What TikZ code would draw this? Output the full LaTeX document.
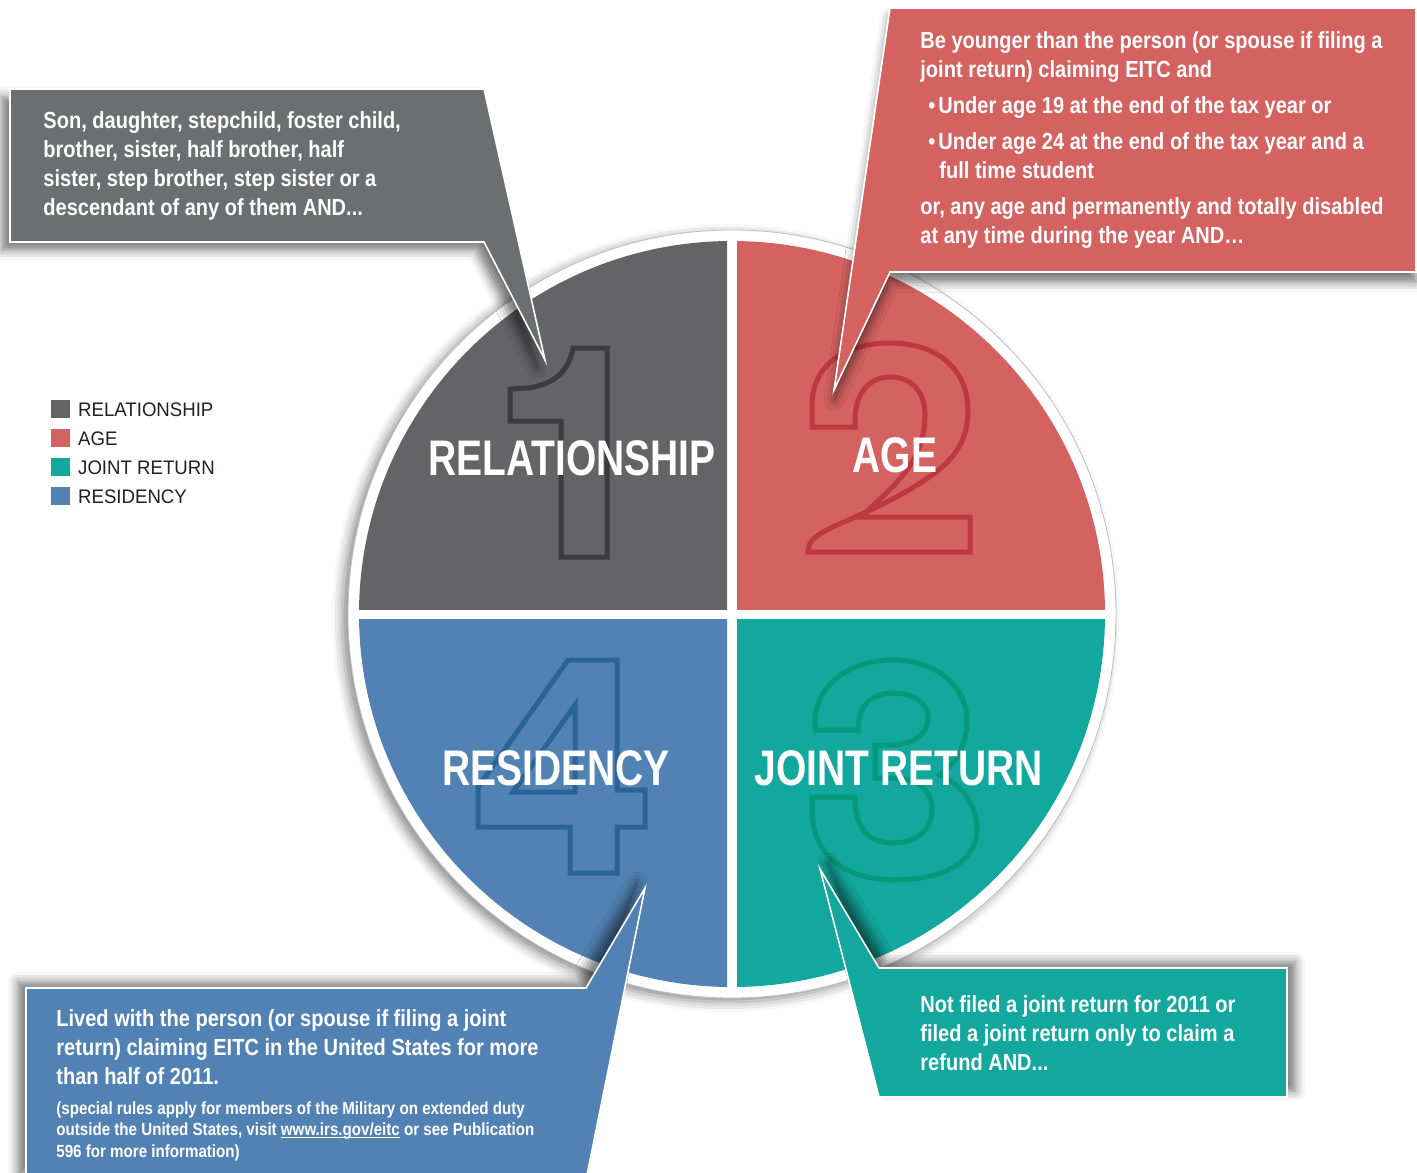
\documentclass[tikz,border=0pt]{standalone}
\usepackage{fontspec}
\setmainfont{Liberation Sans}
\newfontfamily\bodyfont{Liberation Sans}[FakeStretch=0.86]
\newfontfamily\titlefont{Liberation Sans}[FakeStretch=0.78]
\newfontfamily\legendfont{Liberation Sans}[FakeStretch=0.95]
\usetikzlibrary{positioning,shadows.blur}

\newcommand\weblink[1]{\setbox0\hbox{#1}\rlap{\rule[-1.3pt]{\wd0}{0.5pt}}\box0\relax}

\definecolor{relgrey}{RGB}{100,100,102}
\definecolor{boxgrey}{RGB}{109,110,113}
\definecolor{agered}{RGB}{212,98,97}
\definecolor{jointteal}{RGB}{18,168,157}
\definecolor{resblue}{RGB}{81,130,179}
\definecolor{relnum}{RGB}{60,60,62}
\definecolor{agenum}{RGB}{190,56,64}
\definecolor{jointnum}{RGB}{6,152,122}
\definecolor{resnum}{RGB}{42,100,150}
\definecolor{legendink}{RGB}{35,31,32}

\tikzset{
  callout/.style 2 args={draw=white, line width=0.8pt, line join=miter,
    blur shadow={shadow xshift=#1, shadow yshift=#2, shadow blur radius=5pt, shadow opacity=55}},
  digit/.style={line width=2.5pt, line join=miter},
  quadlabel/.style={text=white, font=\titlefont\bfseries\fontsize{25}{30}\selectfont, inner sep=0pt, anchor=base},
  boxtext/.style={text=white, font=\bodyfont\bfseries\fontsize{11.65}{14.5}\selectfont, align=left, inner sep=0pt, anchor=base west},
  smalltext/.style={boxtext, font=\bodyfont\bfseries\fontsize{8.8}{10.75}\selectfont},
  legendsq/.style={minimum width=9.5pt, minimum height=9pt, inner sep=0pt, anchor=north west},
  legendlabel/.style={text=legendink, font=\legendfont\fontsize{9.8}{12}\selectfont, inner sep=0pt, anchor=west}
}

\begin{document}
\begin{tikzpicture}[x=0.5pt,y=-0.5pt]
\useasboundingbox (0,0) rectangle (1417,1172);

% white disk behind the four quarters
\fill[white, draw=black!25, line width=0.4pt,
  blur shadow={shadow xshift=-3pt, shadow yshift=-2pt, shadow blur radius=5pt, shadow opacity=45}]
  (732,614) circle (384);

% quarters
\begin{scope}
\clip (727,609) rectangle (340,220);
\fill[relgrey] (732,614) circle (373);
\end{scope}
\begin{scope}
\clip (737,609) rectangle (1120,220);
\fill[agered] (732,614) circle (373);
\end{scope}
\begin{scope}
\clip (737,619) rectangle (1120,1000);
\fill[jointteal] (732,614) circle (373);
\end{scope}
\begin{scope}
\clip (727,619) rectangle (340,1000);
\fill[resblue] (732,614) circle (373);
\end{scope}

% outlined numbers
\draw[digit, draw=relnum] (573,348) -- (607,348) -- (607,557) -- (561,557) -- (561,421) -- (510,421) -- (510,389)
  -- (528,388) .. controls (556,384) and (569,370) .. (573,348) -- cycle;
\draw[digit, draw=agenum] (812,427) -- (812,405) .. controls (812,365) and (845,343) .. (890,343)
  .. controls (938,343) and (968,370) .. (968,410) .. controls (968,450) and (945,470) .. (900,495)
  .. controls (840,528) and (808,530) .. (808,552) -- (970,552) -- (970,517) -- (862,517)
  .. controls (880,495) and (925,470) .. (925,415) .. controls (925,390) and (910,377) .. (890,377)
  .. controls (868,377) and (855,395) .. (855,420) -- (855,427) -- cycle;
\draw[digit, draw=jointnum] (815,730) -- (815,722) .. controls (815,685) and (850,660) .. (893,660)
  .. controls (940,660) and (967,690) .. (967,720) .. controls (967,745) and (955,765) .. (940,775)
  .. controls (962,785) and (977,805) .. (977,830) .. controls (977,860) and (945,880) .. (895,880)
  .. controls (845,880) and (812,855) .. (812,810) -- (812,797) -- (855,797)
  .. controls (855,830) and (870,843) .. (893,843) .. controls (918,843) and (932,828) .. (932,810)
  .. controls (932,790) and (918,778) .. (893,778) -- (875,778) -- (875,745) -- (890,745)
  .. controls (912,745) and (928,735) .. (928,718) .. controls (928,703) and (913,693) .. (893,693)
  .. controls (872,693) and (858,705) .. (858,730) -- cycle;
\draw[digit, draw=resnum] (568,660) -- (617,660) -- (617,790) -- (645,790) -- (645,827) -- (617,827)
  -- (617,873) -- (570,873) -- (570,827) -- (478,827) -- (478,787) -- cycle
  (575,705) -- (575,792) -- (513,792) -- cycle;

% quarter titles
\node[quadlabel] (relation) at (572,475) {RELATIONSHIP};
\node[quadlabel] (age) at (895,472) {AGE};
\node[quadlabel] (joint) at (899,785) {JOINT RETURN};
\node[quadlabel] (residency) at (556,785) {RESIDENCY};

% callouts
\fill[boxgrey, callout={-4pt}{-4pt}] (10,89) -- (484,89) -- (545,360) -- (484,242) -- (10,242) -- cycle;
\fill[agered, callout={0pt}{-5pt}] (890,8) -- (1416,8) -- (1416,272) -- (890,272) -- (834,390) -- cycle;
\fill[jointteal, callout={4pt}{3pt}] (879,968) -- (1287,968) -- (1287,1097) -- (879,1097) -- (820,869) -- cycle;
\fill[resblue, callout={-4pt}{3pt}] (26,988) -- (586,988) -- (645,888) -- (586,1180) -- (26,1180) -- cycle;

% texts are placed by the baseline of their last line
\node[boxtext] (reltext) at (43,215) {Son, daughter, stepchild, foster child,\\
  brother, sister, half brother, half\\
  sister, step brother, step sister or a\\
  descendant of any of them AND...};
\node[boxtext] (agetext) at (920,243) {Be younger than the person (or spouse if filing a\\
  joint return) claiming EITC and\\[3.5pt]
  \hspace*{4pt}•\hspace{1.5pt}Under age 19 at the end of the tax year or\\[3.5pt]
  \hspace*{4pt}•\hspace{1.5pt}Under age 24 at the end of the tax year and a\\
  \hspace*{9.5pt}full time student\\[3.5pt]
  or, any age and permanently and totally disabled\\
  at any time during the year AND…};
\node[boxtext] (jointtext) at (920,1070) {Not filed a joint return for 2011 or\\
  filed a joint return only to claim a\\
  refund AND...};
\node[boxtext] (restext) at (56,1084) {Lived with the person (or spouse if filing a joint\\
  return) claiming EITC in the United States for more\\
  than half of 2011.};
\node[smalltext] (resnote) at (56,1157) {(special rules apply for members of the Military on extended duty\\
  outside the United States, visit \weblink{www.irs.gov/eitc} or see Publication\\
  596 for more information)};

% legend
\node[legendsq, fill=relgrey] (relsq) at (51,400) {};
\node[legendsq, fill=agered] (agesq) at (51,429) {};
\node[legendsq, fill=jointteal] (jointsq) at (51,458) {};
\node[legendsq, fill=resblue] (ressq) at (51,487) {};
\node[legendlabel, right=3.5pt of relsq] {RELATIONSHIP};
\node[legendlabel, right=3.5pt of agesq] {AGE};
\node[legendlabel, right=3.5pt of jointsq] {JOINT RETURN};
\node[legendlabel, right=3.5pt of ressq] {RESIDENCY};

\end{tikzpicture}
\end{document}
